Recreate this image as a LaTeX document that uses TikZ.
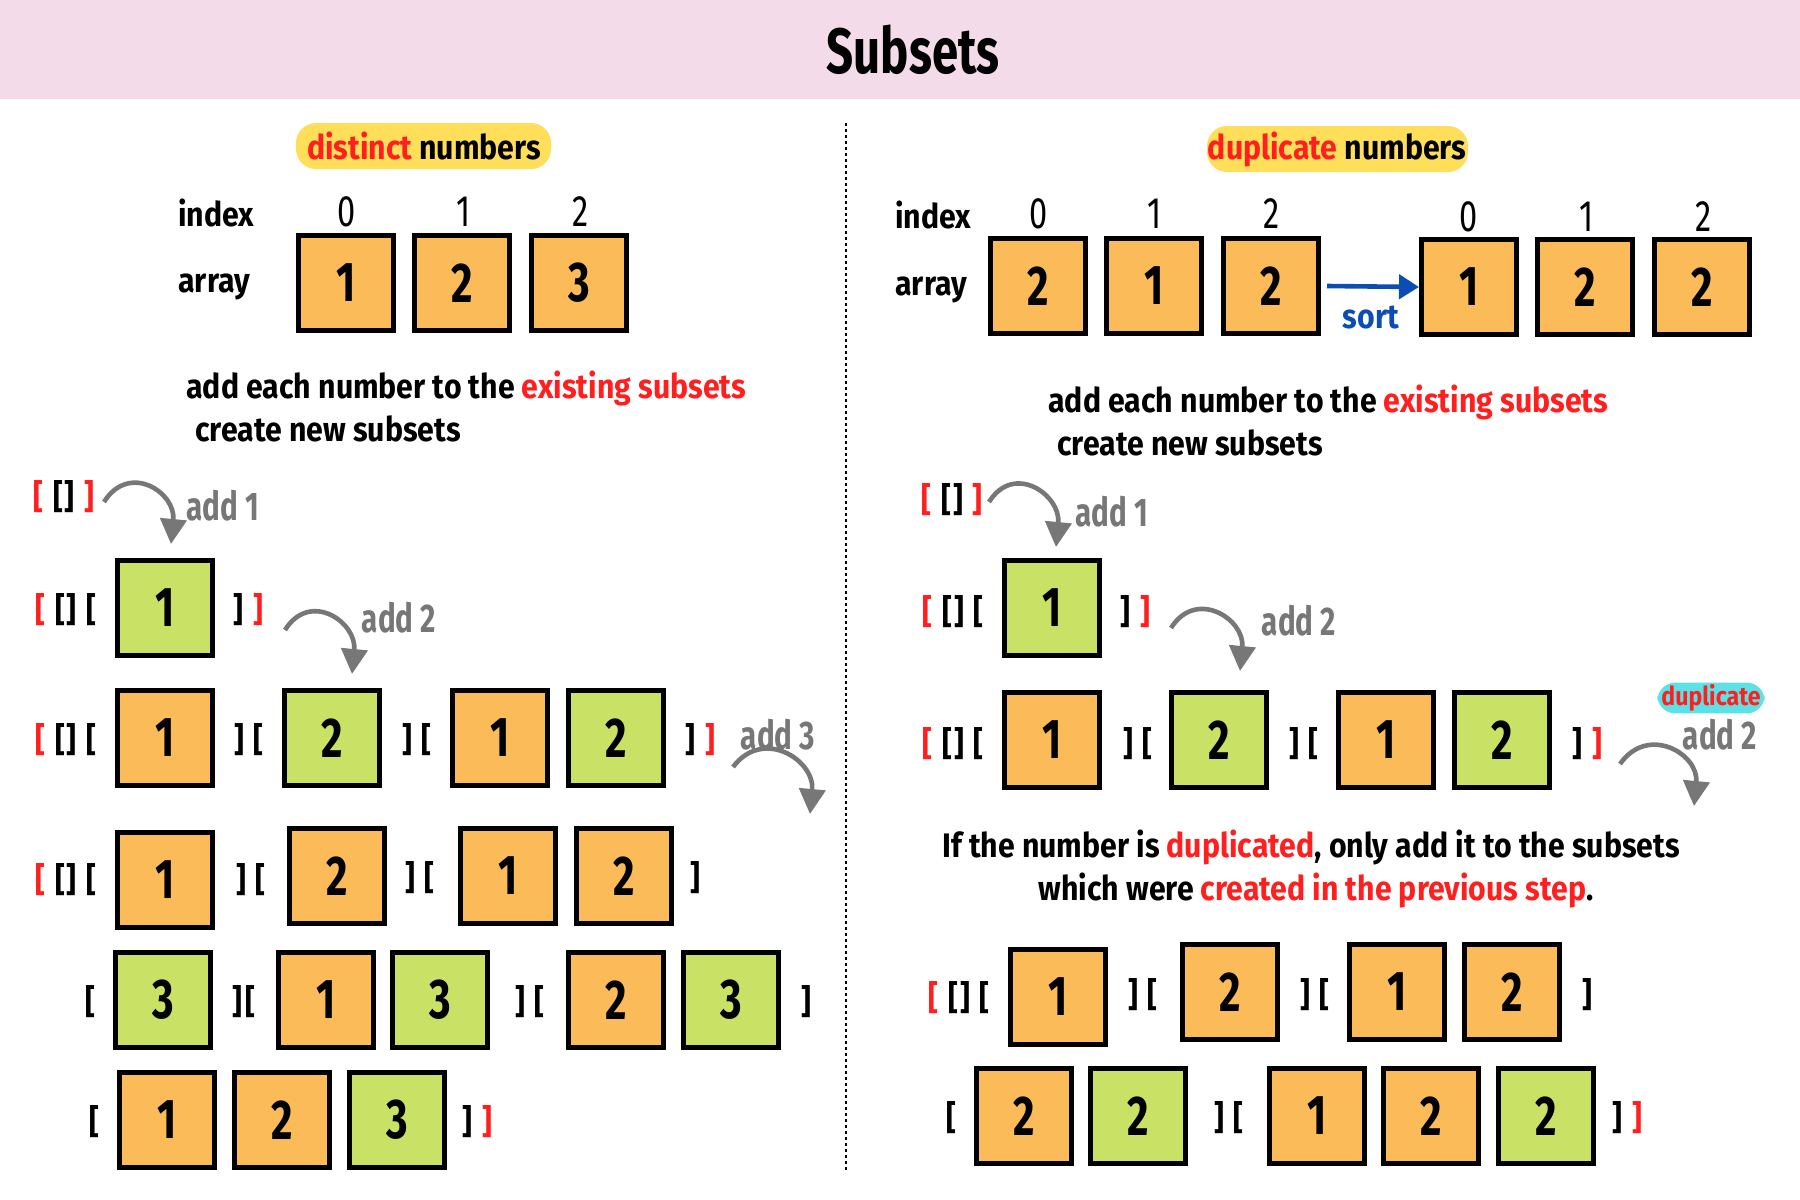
\documentclass[tikz,border=0pt]{standalone}
\usepackage{fontspec}
\setmainfont{Fira Sans}[FakeStretch=0.89]
\newfontfamily\condf{Fira Sans}[FakeStretch=0.74]
\usetikzlibrary{arrows.meta}
\definecolor{boxorange}{HTML}{FCBB59}
\definecolor{boxgreen}{HTML}{C9E265}
\definecolor{titlepink}{HTML}{F3DBEA}
\definecolor{hlyellow}{HTML}{FFDE59}
\definecolor{hlcyan}{HTML}{5CE1E6}
\definecolor{tred}{HTML}{FF1F1F}
\definecolor{addgray}{HTML}{777777}
\definecolor{sortblue}{HTML}{0C4DB4}
\newcommand\redc[1]{\textcolor{tred}{#1}}
\newcommand\opnb{\redc{[}\hspace{5pt}[\hspace{1pt}]\hspace{5pt}[}
\newcommand\clsb{]\hspace{5pt}\redc{]}}
\newcommand\midb{]\hspace{5pt}[}
\begin{document}
\begin{tikzpicture}[x=0.5pt,y=-0.5pt,
  ob/.style={draw=black, line width=2.5pt, fill=boxorange, minimum width=47.5pt, minimum height=47.5pt, inner sep=0pt, font=\condf\fontsize{28}{30}\selectfont\bfseries},
  gb/.style={ob, fill=boxgreen},
  brk/.style={font=\fontsize{17}{20}\selectfont\bfseries, inner sep=0pt},
  idx/.style={font=\condf\fontsize{22}{24}\selectfont, inner sep=0pt},
  lbl/.style={font=\fontsize{17}{20}\selectfont\bfseries, inner sep=0pt},
  addl/.style={font=\condf\fontsize{20}{24}\selectfont\bfseries, text=addgray, inner sep=0pt},
  garrow/.style={draw=addgray, line width=2.3pt, -{Triangle[length=12.5pt,width=13pt]}},
  hl/.style={fill=hlyellow, rounded corners=10pt, inner sep=0pt}
]
\useasboundingbox (0,0) rectangle (1800,1200);
\fill[white] (0,0) rectangle (1800,1200);
% title band
\fill[titlepink] (0,0) rectangle (1800,99);
\node[font=\condf\fontsize{32}{34}\selectfont\bfseries, inner sep=0pt] (title) at (913,50) {Subsets};
% divider
\draw[line width=1.3pt, dash pattern=on 1.5pt off 1.5pt] (846,123) -- (846,1171);

% ================= LEFT =================
\fill[hl] (296,123) rectangle (551,169);
\node[lbl] (Lhead) at (424,146) {\redc{distinct} numbers};
\node[lbl, anchor=west] (Lindex) at (178,213) {index};
\node[lbl, anchor=west] (Larray) at (178,287) {array};
\node[idx] (Li0) at (347,212) {0};
\node[idx] (Li1) at (464,212) {1};
\node[idx] (Li2) at (581,212) {2};
\node[ob] (La0) at (346,283) {1};
\node[ob] (La1) at (462,283) {2};
\node[ob] (La2) at (579,283) {3};
\node[lbl, anchor=west] (Ltext1) at (186,388) {add each number to the \redc{existing subsets}};
\node[lbl, anchor=west] (Ltext2) at (195,429) {create new subsets};

% row 0
\node[brk] (L0o) at (64,497) {\redc{[}\hspace{5pt}[\hspace{1pt}]\hspace{5pt}\redc{]}};
\coordinate (L0s) at (104,502);
\coordinate (L0e) at (171,544);
\draw[garrow] (L0s) .. controls +(25,-40) and +(5,-52) .. (L0e);
\node[addl] (L0add) at (223,506) {add 1};

% row 1
\node[brk] (L1o) at (66,610) {\opnb};
\node[gb] (L1a) at (165,608) {1};
\node[brk] (L1c) at (248,610) {\clsb};
\coordinate (L1s) at (285,630);
\coordinate (L1e) at (352,674);
\draw[garrow] (L1s) .. controls +(25,-40) and +(5,-52) .. (L1e);
\node[addl] (L1add) at (399,618) {add 2};

% row 2
\node[brk] (L2o) at (66,740) {\opnb};
\node[ob] (L2a) at (165,738) {1};
\node[brk] (L2m1) at (249,740) {\midb};
\node[gb] (L2b) at (332,738) {2};
\node[brk] (L2m2) at (417,740) {\midb};
\node[ob] (L2c) at (500,738) {1};
\node[gb] (L2d) at (616,738) {2};
\node[brk] (L2c2) at (700,740) {\clsb};
\node[addl] (L2add) at (778,735) {add 3};
\coordinate (L2s) at (733,767);
\coordinate (L2e) at (810,814);
\draw[garrow] (L2s) .. controls +(30,-40) and +(5,-54) .. (L2e);

% row 3
\node[brk] (L3o) at (66,880) {\opnb};
\node[ob] (L3a) at (165,880) {1};
\node[brk] (L3m1) at (251,880) {\midb};
\node[ob] (L3b) at (337,876) {2};
\node[brk] (L3m2) at (420,878) {\midb};
\node[ob] (L3c) at (508,876) {1};
\node[ob] (L3d) at (624,876) {2};
\node[brk] (L3c2) at (695,878) {]};

% row 4
\node[brk] (L4o) at (90,1002) {[};
\node[gb] (L4a) at (163,1000) {3};
\node[brk] (L4m1) at (244,1002) {]\hspace{2pt}[};
\node[ob] (L4b) at (326,1000) {1};
\node[gb] (L4c) at (440,1000) {3};
\node[brk] (L4m2) at (530,1002) {\midb};
\node[ob] (L4d) at (616,1000) {2};
\node[gb] (L4e) at (731,1000) {3};
\node[brk] (L4c2) at (806,1002) {]};

% row 5
\node[brk] (L5o) at (94,1122) {[};
\node[ob] (L5a) at (167,1120) {1};
\node[ob] (L5b) at (282,1120) {2};
\node[gb] (L5c) at (397,1120) {3};
\node[brk] (L5c2) at (477,1122) {\clsb};

% ================= RIGHT =================
\fill[hl] (1207,126) rectangle (1468,172);
\node[lbl] (Rhead) at (1337,149) {\redc{duplicate} numbers};
\node[lbl, anchor=west] (Rindex) at (895,215) {index};
\node[lbl, anchor=west] (Rarray) at (895,290) {array};
\node[idx] (Ri0) at (1039,214) {0};
\node[idx] (Ri1) at (1155,214) {1};
\node[idx] (Ri2) at (1272,214) {2};
\node[ob] (Ra0) at (1038,286) {2};
\node[ob] (Ra1) at (1154,286) {1};
\node[ob] (Ra2) at (1271,286) {2};
\node[idx] (Rs0i) at (1469,217) {0};
\node[idx] (Rs1i) at (1587,217) {1};
\node[idx] (Rs2i) at (1704,217) {2};
\node[ob] (Rs0) at (1469,287) {1};
\node[ob] (Rs1) at (1585,287) {2};
\node[ob] (Rs2) at (1702,287) {2};
\draw[draw=sortblue, line width=2.3pt, -{Triangle[length=10pt,width=12pt]}] (Ra2.east) ++(3pt,0) coordinate (sortS) (sortS) -- (Rs0.west);
\node[lbl, text=sortblue] (sort) at (1371,317) {sort};
\node[lbl, anchor=west] (Rtext1) at (1048,402) {add each number to the \redc{existing subsets}};
\node[lbl, anchor=west] (Rtext2) at (1057,443) {create new subsets};

% row 0
\node[brk] (R0o) at (952,500) {\redc{[}\hspace{5pt}[\hspace{1pt}]\hspace{5pt}\redc{]}};
\coordinate (R0s) at (989,502);
\coordinate (R0e) at (1056,547);
\draw[garrow] (R0s) .. controls +(25,-40) and +(5,-52) .. (R0e);
\node[addl] (R0add) at (1112,512) {add 1};

% row 1
\node[brk] (R1o) at (953,612) {\opnb};
\node[gb] (R1a) at (1052,608) {1};
\node[brk] (R1c) at (1135,612) {\clsb};
\coordinate (R1s) at (1171,628);
\coordinate (R1e) at (1240,671);
\draw[garrow] (R1s) .. controls +(25,-40) and +(5,-52) .. (R1e);
\node[addl] (R1add) at (1299,621) {add 2};

% row 2
\node[brk] (R2o) at (953,744) {\opnb};
\node[ob] (R2a) at (1052,740) {1};
\node[brk] (R2m1) at (1138,744) {\midb};
\node[gb] (R2b) at (1219,740) {2};
\node[brk] (R2m2) at (1304,744) {\midb};
\node[ob] (R2c) at (1386,740) {1};
\node[gb] (R2d) at (1502,740) {2};
\node[brk] (R2c2) at (1587,744) {\clsb};
\node[fill=hlcyan, rounded corners=9pt, inner xsep=2pt, inner ysep=1pt, font=\fontsize{13}{15}\selectfont\bfseries, text=tred] (Rdup) at (1711,698) {duplicate};
\node[addl] (R2add) at (1720,735) {add 2};
\coordinate (R2s) at (1620,764);
\coordinate (R2e) at (1694,806);
\draw[garrow] (R2s) .. controls +(28,-40) and +(5,-52) .. (R2e);

\node[lbl] (Rnote1) at (1311,847) {If the number is \redc{duplicated}, only add it to the subsets};
\node[lbl] (Rnote2) at (1316,890) {which were \redc{created in the previous step}.};

% row 3
\node[brk] (R3o) at (959,998) {\opnb};
\node[ob] (R3a) at (1058,997) {1};
\node[brk] (R3m1) at (1143,995) {\midb};
\node[ob] (R3b) at (1230,992) {2};
\node[brk] (R3m2) at (1315,995) {\midb};
\node[ob] (R3c) at (1397,992) {1};
\node[ob] (R3d) at (1512,992) {2};
\node[brk] (R3c2) at (1587,995) {]};

% row 4
\node[brk] (R4o) at (951,1118) {[};
\node[ob] (R4a) at (1024,1116) {2};
\node[gb] (R4b) at (1138,1116) {2};
\node[brk] (R4m) at (1229,1118) {\midb};
\node[ob] (R4c) at (1317,1116) {1};
\node[ob] (R4d) at (1431,1116) {2};
\node[gb] (R4e) at (1546,1116) {2};
\node[brk] (R4c2) at (1627,1118) {\clsb};
\end{tikzpicture}
\end{document}
